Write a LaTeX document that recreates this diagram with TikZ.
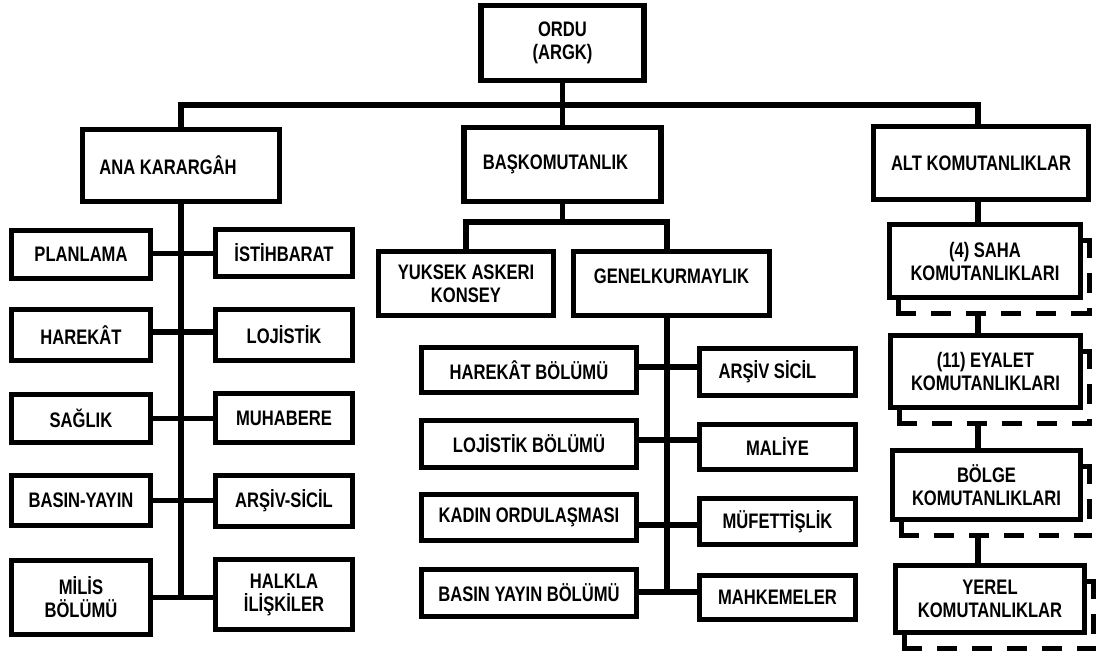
\documentclass[tikz,border=0pt]{standalone}
\usepackage{fontspec}
\setmainfont{Liberation Sans}[FakeStretch=0.79]
\usetikzlibrary{calc,backgrounds}
\tikzset{
  box/.style={draw, fill=white, line width=5.5pt, inner sep=0pt, outer sep=0pt,
    font=\bfseries\fontsize{21}{23}\selectfont},
  conn/.style={line width=5.2pt},
  shadowline/.style={line width=5.2pt, line cap=rect},
  dashpat/.style={dash pattern=on 15pt off 20pt}
}
\newcommand\stackshadow[1]{%
  \draw[shadowline] ([shift={(9,0)}]#1.south west) -- ([shift={(9,16)}]#1.south west);
  \draw[shadowline,dashpat] ([shift={(9,16)}]#1.south west) -- ([shift={(9,16)}]#1.south east);
  \draw[shadowline,dashpat] ([shift={(9,16)}]#1.north east) -- ([shift={(9,16)}]#1.south east);
  \draw[shadowline] ([shift={(0,16)}]#1.north east) -- ([shift={(9,16)}]#1.north east);
}
\begin{document}
\begin{tikzpicture}[x=1pt,y=-1pt]
\useasboundingbox (0,0) rectangle (1096,659);
% top level
\node[box, minimum width=163pt, minimum height=75pt, align=center] (ordu) at (562.5,43) {ORDU\\(ARGK)};
\node[box, minimum width=197pt, minimum height=72pt] (ana) at (181,165.5) {ANA KARARGÂH\hspace*{26pt}};
\node[box, minimum width=197pt, minimum height=74pt] (bask) at (562.5,164.5) {BAŞKOMUTANLIK\hspace*{14pt}};
\node[box, minimum width=215pt, minimum height=73pt] (alt) at (981,163) {ALT KOMUTANLIKLAR};
% left column
\node[box, minimum width=139pt, minimum height=48pt] (plan) at (81,254.5) {PLANLAMA};
\node[box, minimum width=137pt, minimum height=47pt] (ist) at (284,253) {İSTİHBARAT};
\node[box, minimum width=139pt, minimum height=51pt] (hare) at (81,335) {HAREKÂT};
\node[box, minimum width=137pt, minimum height=51pt] (loj) at (284,335) {LOJİSTİK};
\node[box, minimum width=139pt, minimum height=48pt] (sag) at (81,418.5) {SAĞLIK};
\node[box, minimum width=137pt, minimum height=49pt] (muh) at (284,418) {MUHABERE};
\node[box, minimum width=139pt, minimum height=50pt] (bas) at (81,500.5) {BASIN-YAYIN};
\node[box, minimum width=137pt, minimum height=51pt] (ars) at (284,501) {ARŞİV-SİCİL};
\node[box, minimum width=139pt, minimum height=74pt, align=center] (mil) at (81,597.5) {MİLİS\\BÖLÜMÜ};
\node[box, minimum width=137pt, minimum height=70pt, align=center] (hal) at (284,594.5) {HALKLA\\İLİŞKİLER};
% middle column
\node[box, minimum width=175pt, minimum height=64pt, align=center] (yuk) at (466,283.5) {YUKSEK ASKERI\\KONSEY};
\node[box, minimum width=196pt, minimum height=64pt, text height=15pt, text depth=16pt] (gen) at (671.5,283.5) {GENELKURMAYLIK};
\node[box, minimum width=215pt, minimum height=45pt] (hb) at (529,370) {HAREKÂT BÖLÜMÜ};
\node[box, minimum width=156pt, minimum height=47pt] (as) at (777.5,372) {ARŞİV SİCİL\hspace*{20pt}};
\node[box, minimum width=215pt, minimum height=47pt] (lb) at (529,444) {LOJİSTİK BÖLÜMÜ};
\node[box, minimum width=156pt, minimum height=45pt] (mal) at (777.5,447) {MALİYE};
\node[box, minimum width=215pt, minimum height=46pt] (kad) at (529,517.5) {KADIN ORDULAŞMASI};
\node[box, minimum width=156pt, minimum height=46pt] (muf) at (777.5,521.5) {MÜFETTİŞLİK};
\node[box, minimum width=215pt, minimum height=47pt] (byb) at (529,593) {BASIN YAYIN BÖLÜMÜ};
\node[box, minimum width=156pt, minimum height=44pt] (mah) at (777.5,597.5) {MAHKEMELER};
% right column
\node[box, minimum width=191pt, minimum height=73pt, align=center] (saha) at (985,261) {(4) SAHA\\KOMUTANLIKLARI};
\node[box, minimum width=190pt, minimum height=72pt, align=center] (eya) at (985.5,371.5) {(11) EYALET\\KOMUTANLIKLARI};
\node[box, minimum width=188pt, minimum height=69pt, align=center] (bol) at (986.5,485) {BÖLGE\\KOMUTANLIKLARI};
\node[box, minimum width=189pt, minimum height=67pt, align=center] (yer) at (990,599) {YEREL\\KOMUTANLIKLAR};
% shadows
\begin{scope}[on background layer]
\stackshadow{saha}
\stackshadow{eya}
\stackshadow{bol}
\stackshadow{yer}
\end{scope}
% helper coordinates
\coordinate (busy) at (0,105);
\coordinate (midbus) at (0,222);
\coordinate (rc) at (978,0);
\coordinate (ms) at (667,0);
% top connectors
\draw[conn] (ordu.south) -- (bask.north);
\draw[conn] (ana.north) -- (ana.north |- busy) -- (rc |- busy) -- (rc |- alt.north);
% right column connectors
\draw[conn] (rc |- alt.south) -- (rc |- saha.north);
\draw[conn] ([yshift=-16pt]saha.south -| rc) -- (rc |- eya.north);
\draw[conn] ([yshift=-16pt]eya.south -| rc) -- (rc |- bol.north);
\draw[conn] ([yshift=-16pt]bol.south -| rc) -- (rc |- yer.north);
% left column connectors
\draw[conn] (ana.south) -- (ana.south |- mil.east);
\draw[conn] ([yshift=1pt]plan.east) -- ([yshift=1pt]plan.east -| ist.west);
\draw[conn] ([yshift=3pt]hare.east) -- ([yshift=3pt]hare.east -| loj.west);
\draw[conn] (sag.east) -- (sag.east -| muh.west);
\draw[conn] (bas.east) -- (bas.east -| ars.west);
\draw[conn] (mil.east) -- (mil.east -| hal.west);
% middle connectors
\draw[conn] (bask.south) -- (bask.south |- midbus);
\draw[conn] (yuk.north) -- (yuk.north |- midbus) -- (ms |- midbus) -- (ms |- gen.north);
\draw[conn] (ms |- gen.south) -- ([yshift=1pt]byb.east -| ms);
\draw[conn] ([yshift=3pt]hb.east) -- ([yshift=3pt]hb.east -| as.west);
\draw[conn] ([yshift=4pt]lb.east) -- ([yshift=4pt]lb.east -| mal.west);
\draw[conn] ([yshift=-7.5pt]kad.east) -- ([yshift=-7.5pt]kad.east -| muf.west);
\draw[conn] ([yshift=1pt]byb.east) -- ([yshift=1pt]byb.east -| mah.west);
\end{tikzpicture}
\end{document}
